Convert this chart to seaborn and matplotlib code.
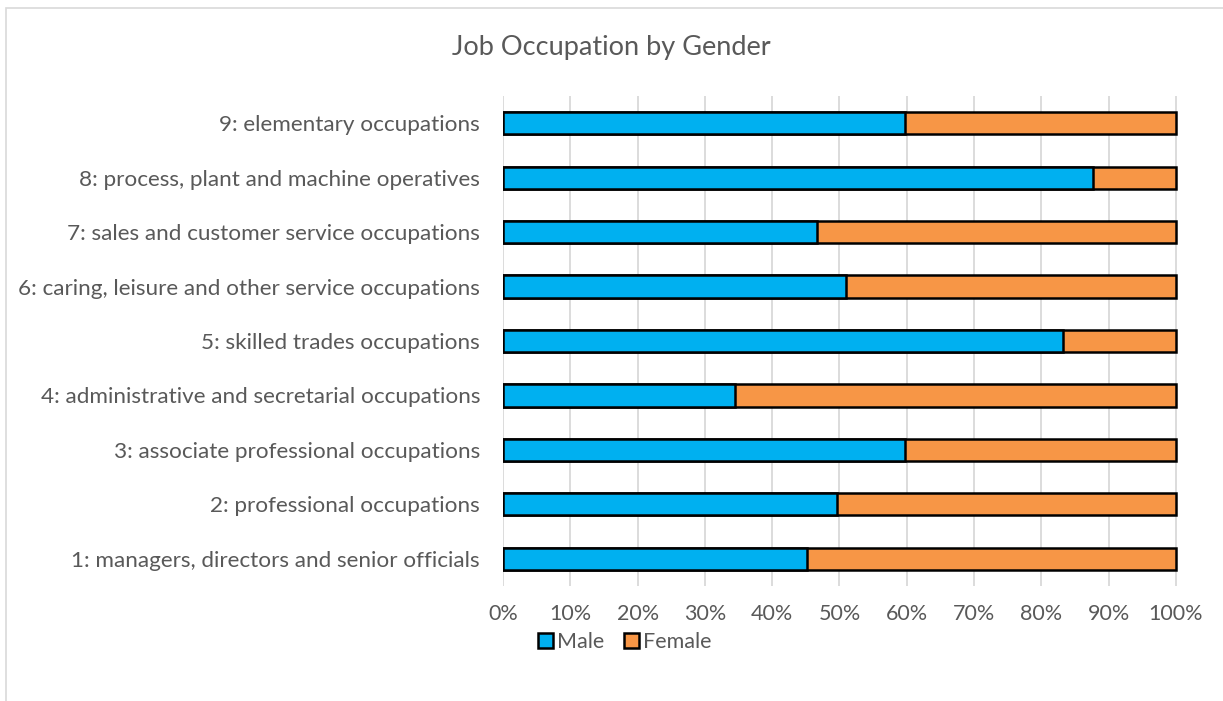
import matplotlib
matplotlib.use("Agg")
import matplotlib.pyplot as plt
from matplotlib.patches import Patch, Rectangle
from matplotlib.ticker import PercentFormatter
import seaborn as sns
import pandas as pd

occupations = [
    "9: elementary occupations",
    "8: process, plant and machine operatives",
    "7: sales and customer service occupations",
    "6: caring, leisure and other service occupations",
    "5: skilled trades occupations",
    "4: administrative and secretarial occupations",
    "3: associate professional occupations",
    "2: professional occupations",
    "1: managers, directors and senior officials",
]
male_pct = [59.7, 87.6, 46.6, 50.9, 83.2, 34.4, 59.7, 49.7, 45.1]
female_pct = [40.3, 12.4, 53.4, 49.1, 16.8, 65.6, 40.3, 50.3, 54.9]
x_ticks = [0, 10, 20, 30, 40, 50, 60, 70, 80, 90, 100]

MALE_COLOR = "#00b0f0"
FEMALE_COLOR = "#f79646"
TEXT_COLOR = "#595959"
GRID_COLOR = "#d9d9d9"

df = pd.DataFrame({
    "occupation": occupations,
    "Male": male_pct,
    "Female": female_pct,
})
df["total"] = df["Male"] + df["Female"]

sns.set_theme(style="white")
plt.rcParams["font.family"] = ["Lato", "DejaVu Sans"]

fig = plt.figure(figsize=(12.23, 7.01), dpi=100)
W, H = 1223, 701
ax = fig.add_axes([503 / W, 1 - 586 / H, (1178 - 503) / W, (586 - 96) / H])

# Stacked 100% bars: the full (male + female) bar in orange, male share on top
sns.barplot(data=df, y="occupation", x="total", orient="h", color=FEMALE_COLOR,
            saturation=1, width=0.41, edgecolor="black", linewidth=1.8, ax=ax,
            zorder=2)
sns.barplot(data=df, y="occupation", x="Male", orient="h", color=MALE_COLOR,
            saturation=1, width=0.41, edgecolor="black", linewidth=1.8, ax=ax,
            zorder=3)

ax.set_xlim(0, 100.3)
ax.set_xticks(x_ticks)
ax.xaxis.set_major_formatter(PercentFormatter(decimals=0))
ax.grid(axis="x", color=GRID_COLOR, linewidth=1.3, zorder=0)
ax.grid(axis="y", visible=False)
ax.set_axisbelow(True)
for s in ax.spines.values():
    s.set_visible(False)
ax.set_xlabel("")
ax.set_ylabel("")
ax.tick_params(axis="both", length=0, colors=TEXT_COLOR)
ax.tick_params(axis="x", pad=13, labelsize=15.5)
ax.tick_params(axis="y", pad=16.5, labelsize=16.2)

fig.text(611 / W, 1 - 47 / H, "Job Occupation by Gender", ha="center",
         va="center", fontsize=19.5, color=TEXT_COLOR)

handles = [
    Patch(facecolor=MALE_COLOR, edgecolor="black", linewidth=1.8, label="Male"),
    Patch(facecolor=FEMALE_COLOR, edgecolor="black", linewidth=1.8, label="Female"),
]
fig.legend(handles=handles, loc="center", bbox_to_anchor=(625 / W, 1 - 642 / H),
           ncol=2, frameon=False, fontsize=15.5, labelcolor=TEXT_COLOR,
           handlelength=0.7, handleheight=0.7, handletextpad=0.2,
           columnspacing=0.9)

# Chart-area border
fig.add_artist(Rectangle((6 / W, -0.05), 1.1, 1 - 8 / H + 0.05,
                         transform=fig.transFigure, fill=False,
                         edgecolor="#d9d9d9", linewidth=1.2))

fig.savefig("out.png", dpi=100, facecolor="white")
